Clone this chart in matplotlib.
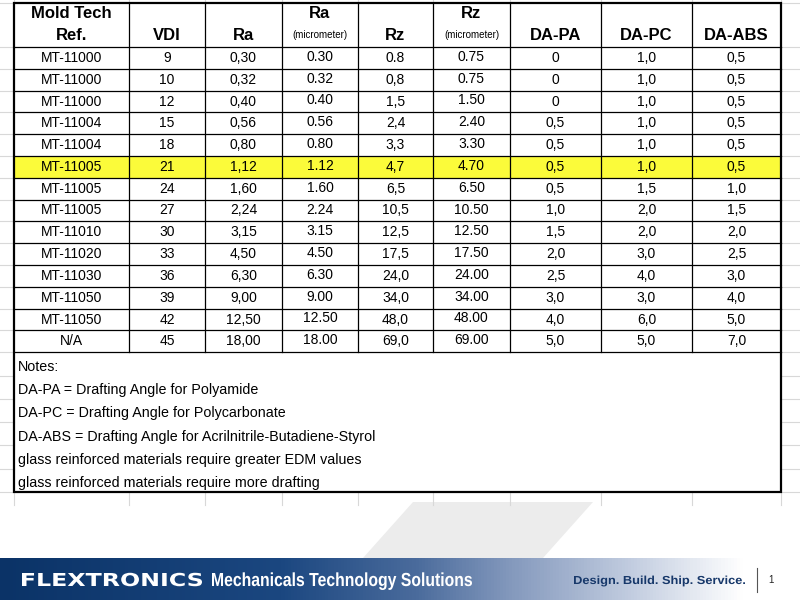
import numpy as np
import matplotlib
matplotlib.use("Agg")
import matplotlib.pyplot as plt
import matplotlib.colors as mcolors
from matplotlib.textpath import TextPath
from matplotlib.patches import PathPatch, Rectangle, Polygon
from matplotlib.font_manager import FontProperties
from matplotlib.transforms import Affine2D

# table data
refs = ['MT-11000', 'MT-11000', 'MT-11000', 'MT-11004', 'MT-11004', 'MT-11005', 'MT-11005',
        'MT-11005', 'MT-11010', 'MT-11020', 'MT-11030', 'MT-11050', 'MT-11050', 'N/A']
vdi = ['9', '10', '12', '15', '18', '21', '24', '27', '30', '33', '36', '39', '42', '45']
ra = ['0,30', '0,32', '0,40', '0,56', '0,80', '1,12', '1,60', '2,24', '3,15', '4,50', '6,30',
      '9,00', '12,50', '18,00']
ra_um = ['0.30', '0.32', '0.40', '0.56', '0.80', '1.12', '1.60', '2.24', '3.15', '4.50', '6.30',
         '9.00', '12.50', '18.00']
rz = ['0.8', '0,8', '1,5', '2,4', '3,3', '4,7', '6,5', '10,5', '12,5', '17,5', '24,0', '34,0',
      '48,0', '69,0']
rz_um = ['0.75', '0.75', '1.50', '2.40', '3.30', '4.70', '6.50', '10.50', '12.50', '17.50',
         '24.00', '34.00', '48.00', '69.00']
da_pa = ['0', '0', '0', '0,5', '0,5', '0,5', '0,5', '1,0', '1,5', '2,0', '2,5', '3,0', '4,0', '5,0']
da_pc = ['1,0', '1,0', '1,0', '1,0', '1,0', '1,0', '1,5', '2,0', '2,0', '3,0', '4,0', '3,0', '6,0', '5,0']
da_abs = ['0,5', '0,5', '0,5', '0,5', '0,5', '0,5', '1,0', '1,5', '2,0', '2,5', '3,0', '4,0', '5,0', '7,0']

headers = [('Mold Tech', 'Ref.'), ('', 'VDI'), ('', 'Ra'), ('Ra', '(micrometer)'), ('', 'Rz'),
           ('Rz', '(micrometer)'), ('', 'DA-PA'), ('', 'DA-PC'), ('', 'DA-ABS')]
notes = ['Notes:',
         'DA-PA = Drafting Angle for Polyamide',
         'DA-PC = Drafting Angle for Polycarbonate',
         'DA-ABS = Drafting Angle for Acrilnitrile-Butadiene-Styrol',
         'glass reinforced materials require greater EDM values',
         'glass reinforced materials require more drafting']
highlight_row = 5

columns = [refs, vdi, ra, ra_um, rz, rz_um, da_pa, da_pc, da_abs]

# layout (pixels)
col_edges = [14, 129, 205, 282, 358, 433, 510, 601, 692, 781]
top, head_bot, row_h = 3, 47, 21.8
n_rows = len(refs)
table_bot = head_bot + n_rows * row_h
notes_bot = 492
note_h = (notes_bot - table_bot) / len(notes)

plt.rcParams['font.family'] = ['Liberation Sans', 'DejaVu Sans']

fig = plt.figure(figsize=(8, 6), dpi=100)
ax = fig.add_axes([0, 0, 1, 1])

# spreadsheet grid outside the table
grid_c = '#d8d8d8'
row_lines = [top, head_bot] + [head_bot + i * row_h for i in range(1, n_rows + 1)]
row_lines += [table_bot + i * note_h for i in range(1, len(notes) + 1)]
for y in row_lines:
    ax.plot([0, col_edges[0]], [y, y], color=grid_c, lw=0.8)
    ax.plot([col_edges[-1], 800], [y, y], color=grid_c, lw=0.8)
for x in col_edges:
    ax.plot([x, x], [notes_bot, 505], color=grid_c, lw=0.8)
    ax.plot([x, x], [0, top], color=grid_c, lw=0.8)

# highlighted row
yh = head_bot + highlight_row * row_h
ax.add_patch(Rectangle((col_edges[0], yh), col_edges[-1] - col_edges[0], row_h,
                       facecolor='#fbfb3a', edgecolor='none', zorder=1))

# inner lines
for i in range(1, n_rows + 1):
    y = head_bot + i * row_h
    ax.plot([col_edges[0], col_edges[-1]], [y, y], color='black', lw=0.9, zorder=2)
ax.plot([col_edges[0], col_edges[-1]], [head_bot, head_bot], color='black', lw=0.9, zorder=2)
for x in col_edges[1:-1]:
    ax.plot([x, x], [top, table_bot], color='black', lw=0.9, zorder=2)
# outer border
ax.add_patch(Rectangle((col_edges[0], top), col_edges[-1] - col_edges[0], notes_bot - top,
                       facecolor='none', edgecolor='black', lw=1.6, zorder=3))

# header text
for j, (h1, h2) in enumerate(headers):
    cx = (col_edges[j] + col_edges[j + 1]) / 2
    if h2 == '(micrometer)':
        ax.text(cx, 14, h1, ha='center', va='center', fontsize=12, fontweight='bold')
        ax.text(cx, 35, h2, ha='center', va='center', fontsize=7)
    else:
        if h1:
            ax.text(cx, 14, h1, ha='center', va='center', fontsize=12, fontweight='bold')
        ax.text(cx, 35.5, h2, ha='center', va='center', fontsize=12, fontweight='bold')

# cells
for j, col in enumerate(columns):
    cx = (col_edges[j] + col_edges[j + 1]) / 2
    dy = -1 if headers[j][1] == '(micrometer)' else 0
    for i, val in enumerate(col):
        cy = head_bot + (i + 0.5) * row_h + dy
        ax.text(cx, cy, val, ha='center', va='center', fontsize=10, zorder=4)

# notes
for k, line in enumerate(notes):
    cy = table_bot + (k + 0.5) * note_h + 3
    ax.text(18, cy, line, ha='left', va='center', fontsize=10.3)

# grey slanted shape
ax.add_patch(Polygon([(413, 502), (593, 502), (543, 558), (363, 558)],
                     closed=True, facecolor='#ececec', edgecolor='none', zorder=0))

# banner gradient
banner_cmap = mcolors.LinearSegmentedColormap.from_list('banner', [
    (0.0, '#0b3367'), (0.35, '#1b4780'), (0.52, '#4a6b9c'), (0.64, '#8499bd'),
    (0.8, '#c6d0e2'), (0.93, '#ffffff'), (1.0, '#ffffff')])
grad = np.linspace(0, 1, 800).reshape(1, -1)
ax.imshow(grad, cmap=banner_cmap, extent=[0, 800, 600, 558], aspect='auto', zorder=1)


def stretched_text(s, x0, x1, cap_top, base, family, color):
    prop = FontProperties(family=family, weight='bold')
    tp = TextPath((0, 0), s, size=10, prop=prop)
    ext = tp.get_extents()
    cap = TextPath((0, 0), 'H', size=10, prop=prop).get_extents().height
    sx = (x1 - x0) / ext.width
    sy = (base - cap_top) / cap
    tr = Affine2D().translate(-ext.x0, 0).scale(sx, -sy).translate(x0, base)
    ax.add_patch(PathPatch(tr.transform_path(tp), facecolor=color, edgecolor='none', zorder=5))


stretched_text('FLEXTRONICS', 22, 202, 573, 586, 'DejaVu Sans', 'white')
stretched_text('Mechanicals Technology Solutions', 212, 472, 573, 586, 'Liberation Sans', 'white')
stretched_text('Design. Build. Ship. Service.', 574, 745, 576, 584, 'Liberation Sans', '#17386a')
ax.plot([757, 757], [568, 592], color='#555555', lw=0.8, zorder=5)
ax.text(771, 580, '1', ha='center', va='center', fontsize=7, color='#222222', zorder=5)

ax.set_xlim(0, 800)
ax.set_ylim(600, 0)
ax.axis('off')
fig.savefig('out.png', dpi=100)
